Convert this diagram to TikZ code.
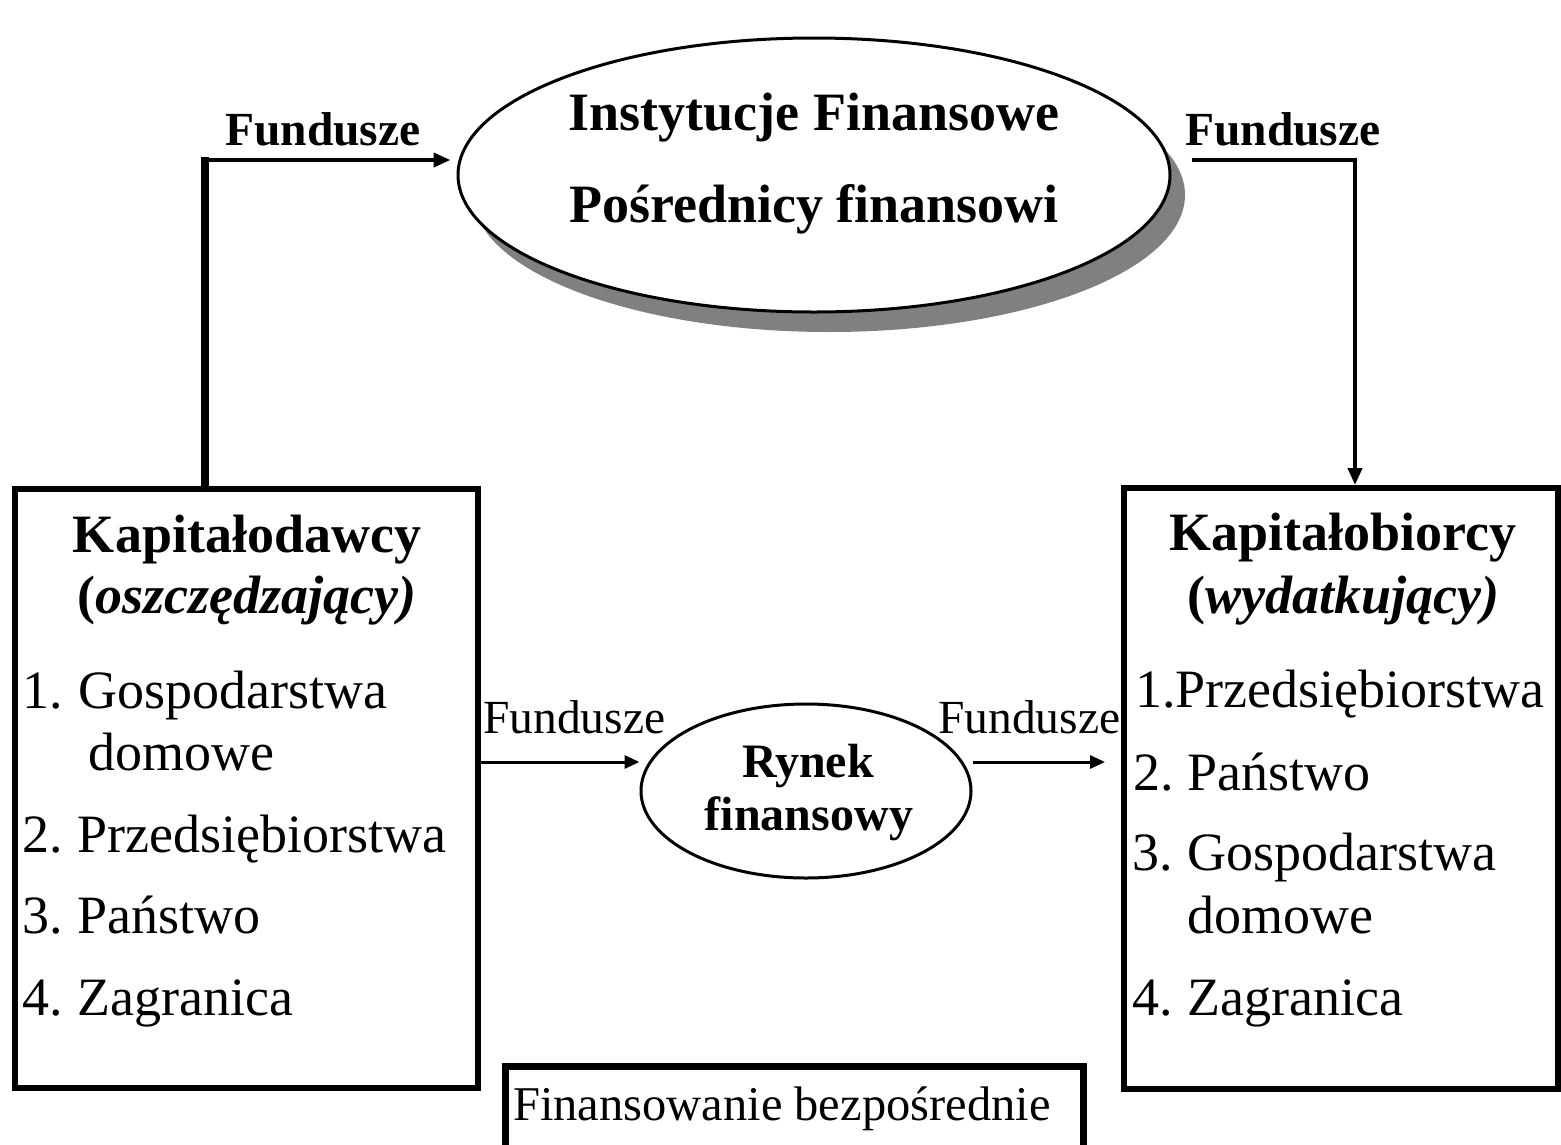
\documentclass[tikz,border=0pt]{standalone}
\usepackage{fontspec}
\setmainfont{Liberation Serif}
\usetikzlibrary{arrows.meta,shapes.geometric}
\definecolor{shadowgray}{RGB}{128,128,128}
\begin{document}
\begin{tikzpicture}[x=1pt,y=-1pt,
  bigbox/.style={draw, line width=6pt, rectangle, inner sep=0pt},
  ell/.style={ellipse, draw, line width=3pt, inner sep=0pt},
  big/.style={inner sep=0pt, font=\fontsize{54}{60}\selectfont},
  bigb/.style={inner sep=0pt, font=\fontsize{54}{60}\selectfont\bfseries},
  midb/.style={inner sep=0pt, font=\fontsize{48}{54}\selectfont\bfseries},
  fund/.style={inner sep=0pt, anchor=base west, font=\fontsize{47.5}{54}\selectfont},
  fundb/.style={inner sep=0pt, anchor=base west, font=\fontsize{47.5}{54}\selectfont\bfseries},
  arr/.style={line width=4pt, line join=miter, -{Triangle[length=17pt,width=14pt]}},
  marr/.style={line width=3pt, -{Triangle[length=15pt,width=13pt]}}
]
\useasboundingbox (0,0) rectangle (1561,1144);
\clip (0,0) rectangle (1561,1144);
\fill[white] (0,0) rectangle (1561,1144);

% boxes
\node[bigbox, minimum width=463pt, minimum height=599pt] (lbox) at (246.5,788.5) {};
\node[bigbox, minimum width=434pt, minimum height=601pt] (rbox) at (1341,788.5) {};
\node[draw, line width=7pt, rectangle, inner sep=0pt, minimum width=578pt, minimum height=100pt] (fbox) at (794,1116) {};
\node[inner sep=0pt, anchor=base west, font=\fontsize{48.5}{54}\selectfont] (ftxt) at (513,1120) {Finansowanie bezpośrednie};

% top ellipse with shadow
\node[ellipse, fill=shadowgray, inner sep=0pt, minimum width=712pt, minimum height=274pt] (topshadow) at (829,195) {};
\node[ell, fill=white, minimum width=712pt, minimum height=274pt] (topell) at (814,175) {};
\node[bigb, anchor=base] (inst) at (814,130) {Instytucje Finansowe};
\node[bigb, anchor=base] (posr) at (814,222) {Pośrednicy finansowi};

% middle ellipse
\node[ell, minimum width=330pt, minimum height=174pt] (rynek) at (806,791) {};
\node[midb, anchor=base] (ry1) at (808,777) {Rynek};
\node[midb, anchor=base] (ry2) at (809,830) {finansowy};

% left box text
\node[bigb, anchor=base] (lh1) at (247,552) {Kapitałodawcy};
\node[bigb, anchor=base] (lh2) at (247,613) {(\textit{oszczędzający)}};
\node[big, anchor=base west] (l1n) at (22,708) {1.};
\node[big, anchor=base west] (l1) at (78,708) {Gospodarstwa};
\node[big, anchor=base west] (l1b) at (88,770) {domowe};
\node[big, anchor=base west] (l2n) at (22,852) {2.};
\node[big, anchor=base west] (l2) at (77,852) {Przedsiębiorstwa};
\node[big, anchor=base west] (l3n) at (22,933) {3.};
\node[big, anchor=base west] (l3) at (77,933) {Państwo};
\node[big, anchor=base west] (l4n) at (22,1015) {4.};
\node[big, anchor=base west] (l4) at (77,1015) {Zagranica};

% right box text
\node[bigb, anchor=base] (rh1) at (1343,550) {Kapitałobiorcy};
\node[bigb, anchor=base] (rh2) at (1343,613) {(\textit{wydatkujący)}};
\node[big, anchor=base west] (r1) at (1135,707) {1.Przedsiębiorstwa};
\node[big, anchor=base west] (r2n) at (1133,790) {2.};
\node[big, anchor=base west] (r2) at (1187,790) {Państwo};
\node[big, anchor=base west] (r3n) at (1132,870) {3.};
\node[big, anchor=base west] (r3) at (1187,870) {Gospodarstwa};
\node[big, anchor=base west] (r3b) at (1187,933) {domowe};
\node[big, anchor=base west] (r4n) at (1132,1015) {4.};
\node[big, anchor=base west] (r4) at (1187,1015) {Zagranica};

% labels
\node[fundb] (f1) at (225,145) {Fundusze};
\node[fundb] (f2) at (1185,145) {Fundusze};
\node[fund] (f3) at (483,733) {Fundusze};
\node[fund] (f4) at (938,733) {Fundusze};

% connectors
\coordinate (tl) at (205,160);
\coordinate (tr) at (1355,160);
\coordinate (m) at (0,762);
\draw[line width=8pt] (lbox.north -| tl) -- ([yshift=3pt]tl);
\draw[arr] ([xshift=-4pt]tl) -- ([xshift=-6pt]topell.west |- tl);
\draw[arr] ([xshift=20pt]topell.east |- tr) -- (tr) -- (tr |- rbox.north);
\draw[marr] (lbox.east |- m) -- (rynek.west |- m);
\draw[marr] (rynek.east |- m) -- ([xshift=-16pt]rbox.west |- m);
\end{tikzpicture}
\end{document}
